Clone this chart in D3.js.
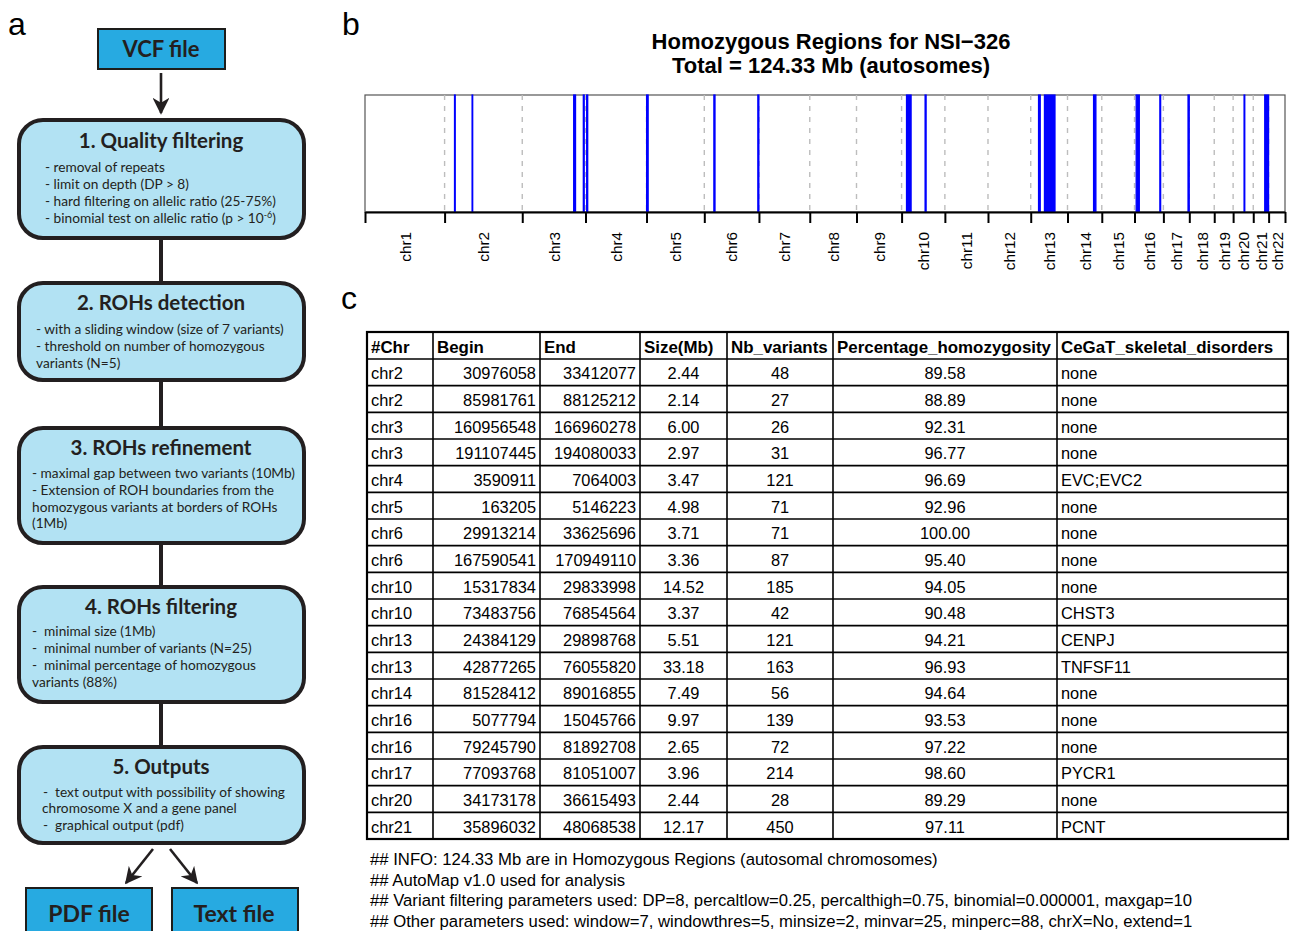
<!DOCTYPE html>
<html>
<head>
<meta charset="utf-8">
<script src="https://cdn.jsdelivr.net/npm/d3@7"></script>
<style>
  body { margin: 0; background: #fff; }
  svg { display: block; }
</style>
</head>
<body>
<div id="fig"></div>
<script>
// --- data --------------------------------------------------------------
const chrNames = d3.range(1, 23).map(i => "chr" + i);
// hg19 autosome lengths (bp)
const chrLengths = [249250621, 243199373, 198022430, 191154276, 180915260, 171115067,
    159138663, 146364022, 141213431, 135534747, 135006516, 133851895, 115169878,
    107349540, 102531392, 90354753, 81195210, 78077248, 59128983, 63025520,
    48129895, 51304566];

const rohChr = ["chr2", "chr2", "chr3", "chr3", "chr4", "chr5", "chr6", "chr6", "chr10",
    "chr10", "chr13", "chr13", "chr14", "chr16", "chr16", "chr17", "chr20", "chr21"];
const rohBegin = [30976058, 85981761, 160956548, 191107445, 3590911, 163205, 29913214,
    167590541, 15317834, 73483756, 24384129, 42877265, 81528412, 5077794, 79245790,
    77093768, 34173178, 35896032];
const rohEnd = [33412077, 88125212, 166960278, 194080033, 7064003, 5146223, 33625696,
    170949110, 29833998, 76854564, 29898768, 76055820, 89016855, 15045766, 81892708,
    81051007, 36615493, 48068538];
const rohSize = [2.44, 2.14, 6.00, 2.97, 3.47, 4.98, 3.71, 3.36, 14.52, 3.37, 5.51, 33.18,
    7.49, 9.97, 2.65, 3.96, 2.44, 12.17];
const rohNbVariants = [48, 27, 26, 31, 121, 71, 71, 87, 185, 42, 121, 163, 56, 139, 72, 214, 28, 450];
const rohPercHom = [89.58, 88.89, 92.31, 96.77, 96.69, 92.96, 100.00, 95.40, 94.05, 90.48,
    94.21, 96.93, 94.64, 93.53, 97.22, 98.60, 89.29, 97.11];
const rohGenes = ["none", "none", "none", "none", "EVC;EVC2", "none", "none", "none", "none",
    "CHST3", "CENPJ", "TNFSF11", "none", "none", "none", "PYCR1", "none", "PCNT"];

const tableHeaders = ["#Chr", "Begin", "End", "Size(Mb)", "Nb_variants",
    "Percentage_homozygosity", "CeGaT_skeletal_disorders"];

const footerLines = [
    "## INFO: 124.33 Mb are in Homozygous Regions (autosomal chromosomes)",
    "## AutoMap v1.0 used for analysis",
    "## Variant filtering parameters used: DP=8, percaltlow=0.25, percalthigh=0.75, binomial=0.000001, maxgap=10",
    "## Other parameters used: window=7, windowthres=5, minsize=2, minvar=25, minperc=88, chrX=No, extend=1"
];

const stepTitles = ["1. Quality filtering", "2. ROHs detection", "3. ROHs refinement",
    "4. ROHs filtering", "5. Outputs"];
const stepLines = [
    ["- removal of repeats", "- limit on depth (DP > 8)",
     "- hard filtering on allelic ratio (25-75%)", "- binomial test on allelic ratio (p > 10^-6)"],
    ["- with a sliding window (size of 7 variants)", "- threshold on number of homozygous",
     "variants (N=5)"],
    ["- maximal gap between two variants (10Mb)", "- Extension of ROH boundaries from the",
     "homozygous variants at borders of ROHs", "(1Mb)"],
    ["-  minimal size (1Mb)", "-  minimal number of variants (N=25)",
     "-  minimal percentage of homozygous", "variants (88%)"],
    ["-  text output with possibility of showing", "chromosome X and a gene panel",
     "-  graphical output (pdf)"]
];

// --- setup -------------------------------------------------------------
const sans = "'Liberation Sans', Arial, Helvetica, sans-serif";
const flowFont = "Lato, 'Open Sans', sans-serif";

const svg = d3.select("#fig").append("svg")
    .attr("width", 1290)
    .attr("height", 931)
    .style("font-family", sans);

const defs = svg.append("defs");
defs.append("marker")
    .attr("id", "arrow")
    .attr("viewBox", "0 0 10 10")
    .attr("refX", 9).attr("refY", 5)
    .attr("markerWidth", 6.5).attr("markerHeight", 6.5)
    .attr("markerUnits", "strokeWidth")
    .attr("orient", "auto")
    .append("path")
        .attr("d", "M0,0 L10,5 L0,10 L3,5 Z")
        .attr("fill", "#231f20");

// panel letters
svg.selectAll("text.panel")
    .data([["a", 8, 35], ["b", 342, 35], ["c", 341, 309]])
    .enter()
    .append("text")
        .attr("class", "panel")
        .attr("x", d => d[1])
        .attr("y", d => d[2])
        .attr("font-size", 32)
        .text(d => d[0]);

// --- panel a: flowchart ------------------------------------------------
const flow = svg.append("g").style("font-family", flowFont).attr("fill", "#231f20");
const cx = 161;
const boxTop = [120, 283, 428, 587, 747];
const boxBottom = [238, 380, 543, 702, 843];
const titleY = [141, 303, 448, 607, 767];
const lineY = [[167, 184, 201, 218], [329, 346, 363], [473, 490, 507, 523],
    [631, 648, 665, 682], [792, 808, 825]];
const lineX = [[45, 45, 45, 45], [36, 36, 36], [32, 32, 32, 32], [32, 32, 32, 32], [43, 42, 43]];

// connectors between steps
flow.selectAll("line.conn")
    .data(d3.range(4))
    .enter()
    .append("line")
        .attr("x1", cx).attr("x2", cx)
        .attr("y1", i => boxBottom[i])
        .attr("y2", i => boxTop[i + 1])
        .attr("stroke", "#231f20")
        .attr("stroke-width", 4);

// top input box
flow.append("rect")
    .attr("x", 98).attr("y", 29).attr("width", 127).attr("height", 40)
    .attr("fill", "#27aae1").attr("stroke", "#1d1d1b").attr("stroke-width", 2);
flow.append("text")
    .attr("x", cx).attr("y", 49).attr("dy", "0.35em")
    .attr("text-anchor", "middle")
    .attr("font-size", 22).attr("font-weight", 700)
    .text("VCF file");
flow.append("line")
    .attr("x1", cx).attr("x2", cx).attr("y1", 73).attr("y2", 113)
    .attr("stroke", "#231f20").attr("stroke-width", 2.6)
    .attr("marker-end", "url(#arrow)");

const steps = flow.selectAll("g.step")
    .data(stepTitles)
    .enter()
    .append("g")
        .attr("class", "step");

steps.append("rect")
    .attr("x", 19)
    .attr("y", (d, i) => boxTop[i])
    .attr("width", 285)
    .attr("height", (d, i) => boxBottom[i] - boxTop[i])
    .attr("rx", 24)
    .attr("fill", "#b2e2f3")
    .attr("stroke", "#231f20")
    .attr("stroke-width", 4);

steps.append("text")
    .attr("x", cx)
    .attr("y", (d, i) => titleY[i])
    .attr("dy", "0.35em")
    .attr("text-anchor", "middle")
    .attr("font-size", 20.5)
    .attr("font-weight", 700)
    .text(d => d);

steps.each(function(d, i) {
    d3.select(this).selectAll("text.line")
        .data(stepLines[i])
        .enter()
        .append("text")
            .attr("class", "line")
            .attr("x", (t, j) => lineX[i][j])
            .attr("y", (t, j) => lineY[i][j])
            .attr("dy", "0.35em")
            .attr("font-size", 13.7)
            .style("white-space", "pre")
            .each(function(t) {
                const el = d3.select(this);
                const parts = t.split("^");
                if (parts.length === 1) { el.text(t); return; }
                // superscript exponent: "10^-6)"
                el.append("tspan").text(parts[0]);
                el.append("tspan").attr("dy", -5).attr("font-size", 9).text(parts[1].slice(0, 2));
                el.append("tspan").attr("dy", 5).text(parts[1].slice(2));
            });
});

// output arrows + boxes
flow.append("line")
    .attr("x1", 153).attr("y1", 849).attr("x2", 126).attr("y2", 883)
    .attr("stroke", "#231f20").attr("stroke-width", 2.6)
    .attr("marker-end", "url(#arrow)");
flow.append("line")
    .attr("x1", 170).attr("y1", 849).attr("x2", 197).attr("y2", 883)
    .attr("stroke", "#231f20").attr("stroke-width", 2.6)
    .attr("marker-end", "url(#arrow)");

flow.selectAll("g.out")
    .data([["PDF file", 26, 89], ["Text file", 172, 234]])
    .enter()
    .append("g")
    .each(function(d) {
        const g = d3.select(this);
        g.append("rect")
            .attr("x", d[1]).attr("y", 888).attr("width", 126).attr("height", 60)
            .attr("fill", "#27aae1").attr("stroke", "#1d1d1b").attr("stroke-width", 2);
        g.append("text")
            .attr("x", d[2]).attr("y", 914).attr("dy", "0.35em")
            .attr("text-anchor", "middle")
            .attr("font-size", 23).attr("font-weight", 700)
            .text(d[0]);
    });

// --- panel b: genome-wide ROH plot -------------------------------------
const chrStart = [0];
chrLengths.forEach((len, i) => chrStart.push(chrStart[i] + len));
const genomeLen = chrStart[chrStart.length - 1];
const chrIndex = name => chrNames.indexOf(name);

const plot = {left: 365, right: 1285, top: 95, bottom: 212};
const x = d3.scaleLinear()
    .domain([0, genomeLen])
    .range([plot.left, plot.right]);

const total = d3.sum(rohSize);

svg.append("text")
    .attr("x", 831).attr("y", 49)
    .attr("text-anchor", "middle")
    .attr("font-size", 22).attr("font-weight", 700)
    .text("Homozygous Regions for NSI\u2212326");
svg.append("text")
    .attr("x", 831).attr("y", 73)
    .attr("text-anchor", "middle")
    .attr("font-size", 22).attr("font-weight", 700)
    .text(`Total = ${d3.format(".2f")(total)} Mb (autosomes)`);

svg.append("rect")
    .attr("x", plot.left).attr("y", plot.top)
    .attr("width", plot.right - plot.left).attr("height", plot.bottom - plot.top)
    .attr("fill", "none").attr("stroke", "#555").attr("stroke-width", 1.2);

// chromosome boundaries
svg.append("g")
    .selectAll("line")
    .data(chrStart.slice(1, -1))
    .enter()
    .append("line")
        .attr("x1", d => x(d)).attr("x2", d => x(d))
        .attr("y1", plot.top).attr("y2", plot.bottom)
        .attr("stroke", "#bdbdbd")
        .attr("stroke-width", 1.4)
        .attr("stroke-dasharray", "5,6");

// homozygous regions
svg.append("g")
    .selectAll("rect")
    .data(d3.range(rohChr.length))
    .enter()
    .append("rect")
        .attr("x", i => x(chrStart[chrIndex(rohChr[i])] + rohBegin[i]))
        .attr("y", plot.top)
        .attr("width", i => x(chrStart[chrIndex(rohChr[i])] + rohEnd[i]) - x(chrStart[chrIndex(rohChr[i])] + rohBegin[i]))
        .attr("height", plot.bottom - plot.top)
        .attr("fill", "#0000ff")
        .attr("stroke", "#0000ff")
        .attr("stroke-width", 1.2);

// bottom axis with boundary ticks
const axisG = svg.append("g")
    .attr("transform", `translate(0, ${plot.bottom})`)
    .call(d3.axisBottom(x)
        .tickValues(chrStart)
        .tickFormat("")
        .tickSize(11)
        .tickSizeOuter(0));
axisG.select(".domain").attr("stroke", "#000").attr("stroke-width", 2);
axisG.selectAll(".tick line").attr("stroke", "#000").attr("stroke-width", 2);

// chromosome labels at midpoints
const mids = chrLengths.map((len, i) => chrStart[i] + len / 2);
const labelG = svg.append("g")
    .attr("transform", `translate(0, ${plot.bottom})`)
    .call(d3.axisBottom(x)
        .tickValues(mids)
        .tickFormat((d, i) => chrNames[i])
        .tickSize(0));
labelG.select(".domain").remove();
labelG.selectAll(".tick text")
    .attr("transform", "rotate(-90)")
    .attr("x", -20)
    .attr("y", 0)
    .attr("dy", "0.35em")
    .attr("text-anchor", "end")
    .attr("font-family", sans)
    .attr("font-size", 15.3)
    .attr("fill", "#000");

// --- panel c: table ----------------------------------------------------
const colEdges = [367, 433, 540, 640, 727, 833, 1057, 1288];
const colAlign = ["start", "end", "end", "middle", "middle", "middle", "start"];
const headTop = 332, headBottom = 359;
const rowY = d3.scaleLinear().domain([0, rohChr.length]).range([headBottom, 839]);
const fmt2 = d3.format(".2f");

const rowValues = d3.range(rohChr.length).map(i => [
    rohChr[i], rohBegin[i], rohEnd[i], fmt2(rohSize[i]), rohNbVariants[i],
    fmt2(rohPercHom[i]), rohGenes[i]
]);

const table = svg.append("g").attr("font-size", 16.4);

const cellX = (j, align) => align === "start" ? colEdges[j] + 4
    : align === "end" ? colEdges[j + 1] - 4
    : (colEdges[j] + colEdges[j + 1]) / 2;

// header
table.append("g")
    .selectAll("text")
    .data(tableHeaders)
    .enter()
    .append("text")
        .attr("x", (d, j) => colEdges[j] + 4)
        .attr("y", (headTop + headBottom) / 2 + 1)
        .attr("dy", "0.36em")
        .attr("font-size", 16.9)
        .attr("font-weight", 700)
        .text(d => d);

// body rows
table.append("g")
    .selectAll("g")
    .data(rowValues)
    .enter()
    .append("g")
    .each(function(row, i) {
        d3.select(this).selectAll("text")
            .data(row)
            .enter()
            .append("text")
                .attr("x", (d, j) => cellX(j, colAlign[j]))
                .attr("y", (rowY(i) + rowY(i + 1)) / 2 + 1)
                .attr("dy", "0.36em")
                .attr("text-anchor", (d, j) => colAlign[j])
                .text(d => d);
    });

// grid lines
const grid = table.append("g").attr("stroke", "#000");
grid.selectAll("line.h")
    .data([headBottom].concat(d3.range(1, rohChr.length).map(rowY)))
    .enter()
    .append("line")
        .attr("x1", colEdges[0]).attr("x2", colEdges[colEdges.length - 1])
        .attr("y1", d => d).attr("y2", d => d)
        .attr("stroke-width", 1.6);
grid.selectAll("line.v")
    .data(colEdges.slice(1, -1))
    .enter()
    .append("line")
        .attr("x1", d => d).attr("x2", d => d)
        .attr("y1", headTop).attr("y2", rowY(rohChr.length))
        .attr("stroke-width", 1.6);
grid.append("rect")
    .attr("x", colEdges[0]).attr("y", headTop)
    .attr("width", colEdges[colEdges.length - 1] - colEdges[0])
    .attr("height", rowY(rohChr.length) - headTop)
    .attr("fill", "none")
    .attr("stroke-width", 2.2);

// footer notes
svg.append("g")
    .selectAll("text")
    .data(footerLines)
    .enter()
    .append("text")
        .attr("x", 370)
        .attr("y", (d, i) => 859 + i * 20.7)
        .attr("dy", "0.36em")
        .attr("font-size", 16.7)
        .text(d => d);
</script>
</body>
</html>
